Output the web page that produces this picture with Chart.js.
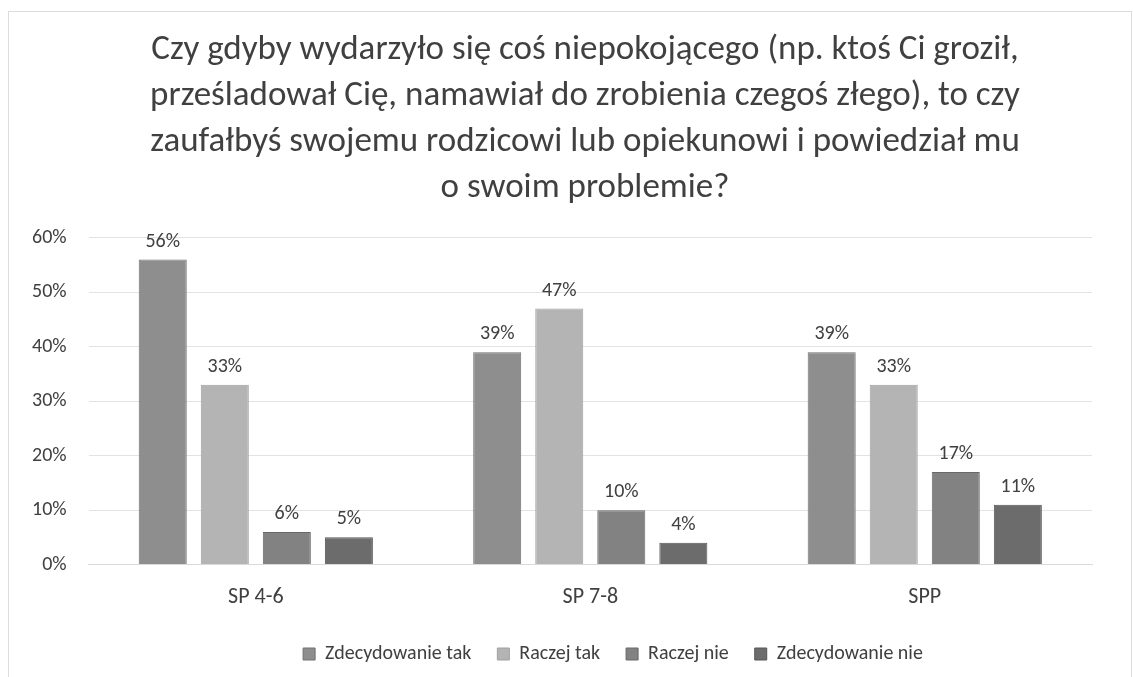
<!DOCTYPE html>
<html><head><meta charset="utf-8">
<script src="https://cdn.jsdelivr.net/npm/chart.js@4"></script>
<style>
html,body{margin:0;padding:0;background:#fff;overflow:hidden;}
#wrap{position:absolute;left:8px;top:11px;width:1124px;height:670px;border:1px solid #dcdcdc;box-sizing:border-box;background:#fff;}
canvas{display:block;}
</style></head><body>
<div id="wrap"><canvas id="c"></canvas></div>
<script>
const categories = ["SP 4-6", "SP 7-8", "SPP"];
const seriesNames = ["Zdecydowanie tak", "Raczej tak", "Raczej nie", "Zdecydowanie nie"];
const zdecydowanieTak = [56, 39, 39];
const raczejTak = [33, 47, 33];
const raczejNie = [6, 10, 17];
const zdecydowanieNie = [5, 4, 11];
const yTicks = [0, 10, 20, 30, 40, 50, 60];
const titleLines = ["Czy gdyby wydarzyło się coś niepokojącego (np. ktoś Ci groził,", "prześladował Cię, namawiał do zrobienia czegoś złego), to czy", "zaufałbyś swojemu rodzicowi lub opiekunowi i powiedział mu", "o swoim problemie?"];

const fills = ["#8e8e8e", "#b4b4b4", "#828282", "#6c6c6c"];
const borders = ["#707070", "#a0a0a0", "#686868", "#565656"];
const FONT = "Calibri, Carlito, Lato, sans-serif";

// Bar value labels
const labelPlugin = {
  id: 'barLabels',
  afterDatasetsDraw(chart) {
    const ctx = chart.ctx;
    ctx.save();
    ctx.font = "20px " + FONT;
    ctx.fillStyle = "#404040";
    ctx.textAlign = "center";
    ctx.textBaseline = "alphabetic";
    chart.data.datasets.forEach((ds, i) => {
      const meta = chart.getDatasetMeta(i);
      meta.data.forEach((bar, j) => {
        ctx.fillText(ds.data[j] + "%", bar.x, bar.y - 13);
      });
    });
    ctx.restore();
  }
};

// Offset title / legend like the original Excel layout
const offsetPlugin = {
  id: 'blockOffset',
  afterLayout(chart) {
    const t = chart.titleBlock;
    if (t) { t.left += 34; t.right += 34; }
    const l = chart.legend;
    if (l) { l.left += 62; l.right += 62; l.top -= 5; l.bottom -= 5; }
  }
};

const dataArrays = [zdecydowanieTak, raczejTak, raczejNie, zdecydowanieNie];
new Chart(document.getElementById('c'), {
  type: 'bar',
  data: {
    labels: categories,
    datasets: dataArrays.map((d, i) => ({
      label: seriesNames[i],
      data: d,
      backgroundColor: fills[i],
      borderColor: borders[i],
      borderWidth: 1,
      categoryPercentage: 0.742,
      barPercentage: 0.774
    }))
  },
  options: {
    responsive: true,
    maintainAspectRatio: false,
    animation: false,
    layout: { padding: { left: 1, right: 39, top: 8, bottom: 1 } },
    plugins: {
      title: {
        display: true,
        text: titleLines,
        color: "#404040",
        font: { family: FONT, size: 35, weight: 'normal', lineHeight: 1.32 },
        padding: { top: 7, bottom: 26 }
      },
      legend: {
        position: 'bottom',
        labels: {
          color: "#404040",
          font: { family: FONT, size: 20 },
          boxWidth: 12, boxHeight: 12,
          padding: 26
        }
      },
      tooltip: { enabled: false }
    },
    scales: {
      x: {
        grid: { display: false },
        border: { color: "#d9d9d9" },
        ticks: { color: "#404040", font: { family: FONT, size: 22 }, padding: 12 }
      },
      y: {
        min: 0, max: 60,
        afterBuildTicks(axis) { axis.ticks = yTicks.map(v => ({ value: v })); },
        grid: { color: "#e3e3e3", drawTicks: false },
        border: { display: false },
        ticks: { color: "#404040", font: { family: FONT, size: 20 }, padding: 22, callback: v => v + "%" }
      }
    }
  },
  plugins: [labelPlugin, offsetPlugin]
});
</script>
</body></html>
